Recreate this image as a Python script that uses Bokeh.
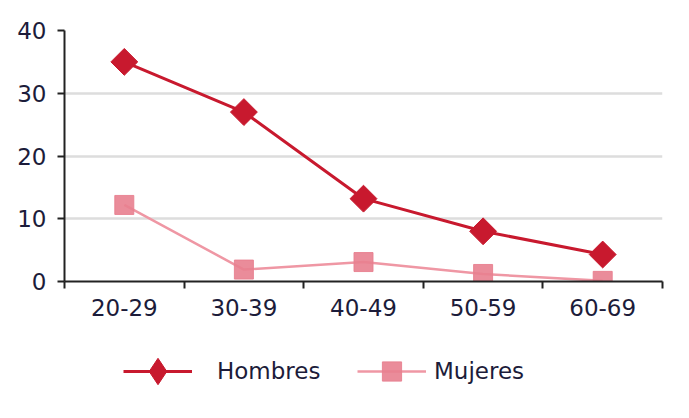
import math
from bokeh.plotting import figure
from bokeh.layouts import column
from bokeh.models import Range1d, FixedTicker, Legend, LegendItem, ColumnDataSource
from bokeh.embed import file_html
from bokeh.resources import INLINE

categories = ["20-29", "30-39", "40-49", "50-59", "60-69"]
hombres = [35, 27, 13.2, 8, 4.3]
mujeres = [12.2, 1.9, 3.1, 1.2, 0.1]
y_ticks = [0, 10, 20, 30, 40]
series_names = ["Hombres", "Mujeres"]

xpos = [i + 0.5 for i in range(len(categories))]
bounds = list(range(len(categories) + 1))

FONT = "DejaVu Sans"
TXT = "#1c1c3a"
RED = "#c8192e"
PINK_M = "#e8808f"
PINK_L = "#ef97a4"

p = figure(width=681, height=338,
           min_border_left=64, min_border_right=19, min_border_top=30, min_border_bottom=57,
           x_range=Range1d(0, len(categories)), y_range=Range1d(0, 40),
           output_backend="svg", toolbar_location=None)
p.outline_line_color = None
p.background_fill_color = "white"
p.border_fill_color = "white"

src = ColumnDataSource(dict(x=xpos, h=hombres, m=mujeres))

def draw_series(fig):
    lm = fig.line("x", "m", source=src, line_color=PINK_L, line_width=2.5)
    sm = fig.scatter("x", "m", source=src, marker="square", size=19, fill_color=PINK_M,
                     line_color=PINK_M, fill_alpha=0.9, line_alpha=0.9)
    lh = fig.line("x", "h", source=src, line_color=RED, line_width=3)
    return lm, sm, lh

draw_series(p)
p.scatter("x", "h", source=src, marker="square", angle=math.pi / 4, size=19,
          fill_color=RED, line_color=RED)

# axes
p.xaxis.ticker = FixedTicker(ticks=xpos, minor_ticks=bounds)
p.xaxis.major_label_overrides = {x: c for x, c in zip(xpos, categories)}
p.xaxis.major_tick_line_color = None
p.xaxis.minor_tick_out = 7
p.xaxis.minor_tick_in = 0
p.xaxis.minor_tick_line_width = 2
p.xaxis.minor_tick_line_color = "#222222"
p.xaxis.axis_line_width = 2
p.xaxis.axis_line_color = "#222222"
p.xaxis.major_label_text_font = FONT
p.xaxis.major_label_text_font_size = "23px"
p.xaxis.major_label_text_color = TXT
p.xaxis.major_label_standoff = 10

p.yaxis.ticker = FixedTicker(ticks=y_ticks)
p.yaxis.minor_tick_line_color = None
p.yaxis.major_tick_out = 7
p.yaxis.major_tick_in = 0
p.yaxis.major_tick_line_width = 2
p.yaxis.major_tick_line_color = "#222222"
p.yaxis.axis_line_width = 2
p.yaxis.axis_line_color = "#222222"
p.yaxis.major_label_text_font = FONT
p.yaxis.major_label_text_font_size = "23px"
p.yaxis.major_label_text_color = TXT
p.yaxis.major_label_standoff = 11

p.xgrid.grid_line_color = None
p.ygrid.ticker = FixedTicker(ticks=y_ticks)
p.ygrid.grid_line_color = "#dddddd"
p.ygrid.grid_line_width = 2.5

# legend strip: same data, drawn in a range where it is out of view
lf = figure(width=681, height=72, min_border=0, x_range=Range1d(0, len(categories)),
            y_range=Range1d(100, 101),
            x_axis_type=None, y_axis_type=None, output_backend="svg", toolbar_location=None)
lf.outline_line_color = None
lf.xgrid.grid_line_color = None
lf.ygrid.grid_line_color = None
l_m, s_m, l_h = draw_series(lf)
d_h = lf.scatter("x", "h", source=src, marker="diamond", fill_color=RED, line_color=RED)

def add_leg(label, rends, loc, standoff, gh):
    lg = Legend(items=[LegendItem(label=label, renderers=rends)],
                location=loc, orientation="horizontal",
                glyph_width=69, glyph_height=gh, label_standoff=standoff,
                padding=0, margin=0, border_line_color=None, background_fill_alpha=0,
                label_text_font=FONT, label_text_font_size="23px",
                label_text_color=TXT, label_height=gh)
    lf.add_layout(lg, "center")

add_leg(series_names[0], [l_h, d_h], (59, 6), 25, 66)
add_leg(series_names[1], [l_m, s_m], (293, 15), 8, 48)

layout = column(p, lf, spacing=0)
open("out.html", "w").write(file_html(layout, INLINE))
